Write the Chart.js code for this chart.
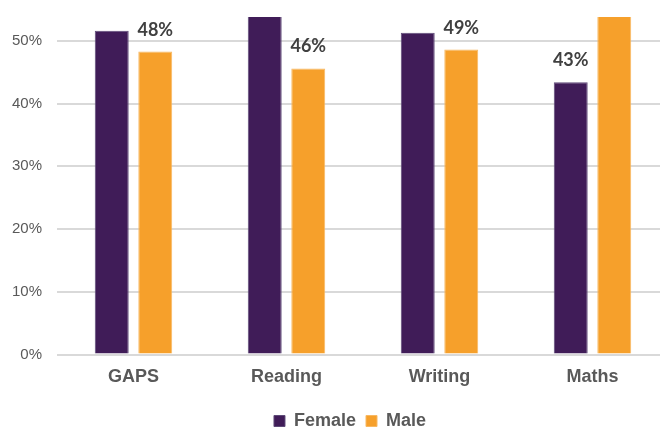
<!DOCTYPE html>
<html>
<head>
<meta charset="utf-8">
<script src="https://cdn.jsdelivr.net/npm/chart.js@4/dist/chart.umd.min.js"></script>
<style>
  html, body { margin: 0; padding: 0; background: #ffffff; overflow: hidden; }
  #wrap { position: relative; width: 700px; height: 429px; }
</style>
</head>
<body>
<div id="wrap"><canvas id="c"></canvas></div>
<script>
const categories = ['GAPS', 'Reading', 'Writing', 'Maths'];
const femaleValues = [51.6, 55.0, 51.3, 43.4];
const maleValues = [48.3, 45.6, 48.6, 57.0];
const yTickValues = [0, 10, 20, 30, 40, 50];
const yVisibleMax = 53.8;
const seriesNames = ['Female', 'Male'];
const seriesColors = ['#401c58', '#f6a02b'];
const seriesBorders = ['#5e4a78', '#f8b862'];

const valueLabels = {
  id: 'valueLabels',
  afterDatasetsDraw(chart) {
    const { ctx, chartArea } = chart;
    ctx.save();
    ctx.beginPath();
    ctx.rect(chartArea.left, chartArea.top, chartArea.right - chartArea.left, chartArea.bottom - chartArea.top);
    ctx.clip();
    ctx.font = 'bold 18px Lato, "Open Sans", sans-serif';
    ctx.fillStyle = '#404040';
    ctx.textAlign = 'center';
    ctx.textBaseline = 'alphabetic';
    chart.data.datasets.forEach((ds, di) => {
      const meta = chart.getDatasetMeta(di);
      meta.data.forEach((el, i) => {
        ctx.fillText(Math.round(ds.data[i]) + '%', el.x, el.y - 16);
      });
    });
    ctx.restore();
  }
};

new Chart(document.getElementById('c'), {
  type: 'bar',
  data: {
    labels: categories,
    datasets: [
      { label: seriesNames[0], data: femaleValues, backgroundColor: seriesColors[0], borderColor: seriesBorders[0], borderWidth: 1 },
      { label: seriesNames[1], data: maleValues, backgroundColor: seriesColors[1], borderColor: seriesBorders[1], borderWidth: 1 }
    ]
  },
  options: {
    responsive: true,
    maintainAspectRatio: false,
    animation: false,
    datasets: { bar: { categoryPercentage: 0.569, barPercentage: 0.78 } },
    layout: { padding: { top: 17, left: 0, right: 0, bottom: -11 } },
    scales: {
      x: {
        afterFit(scale) { scale.height = 47.5; scale.paddingLeft = 0; scale.paddingRight = 0; },
        grid: { display: false, drawTicks: false },
        border: { display: false },
        ticks: { color: '#595959', font: { family: 'Liberation Sans, Arial, sans-serif', size: 18, weight: 'bold' }, padding: 12 }
      },
      y: {
        min: 0,
        max: yVisibleMax,
        afterBuildTicks(scale) { scale.ticks = yTickValues.map(v => ({ value: v })); },
        afterFit(scale) { scale.width = 57; scale.paddingTop = 0; scale.paddingBottom = 0; },
        grid: { color: '#d9d9d9', lineWidth: 2, drawTicks: false },
        border: { display: false },
        ticks: { color: '#595959', font: { family: 'Liberation Sans, Arial, sans-serif', size: 15 }, padding: 15, callback: v => v + '%' }
      },
      y2: {
        position: 'right',
        display: true,
        afterFit(scale) { scale.width = 31; scale.paddingTop = 0; scale.paddingBottom = 0; },
        grid: { display: false, drawTicks: false },
        border: { display: false },
        ticks: { display: false }
      }
    },
    plugins: {
      legend: {
        position: 'bottom',
        labels: {
          color: '#595959',
          font: { family: 'Liberation Sans, Arial, sans-serif', size: 18, weight: 'bold' },
          boxWidth: 11,
          boxHeight: 11,
          padding: 10
        }
      },
      tooltip: { enabled: false }
    }
  },
  plugins: [valueLabels]
});
</script>
</body>
</html>
